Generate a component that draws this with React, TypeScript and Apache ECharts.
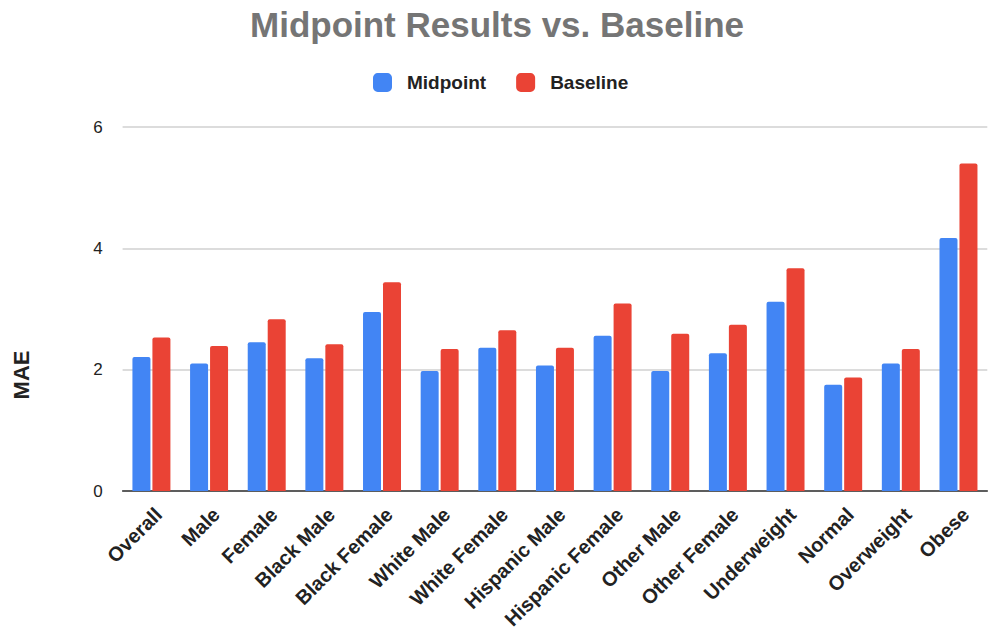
import React, { useEffect, useRef } from "react";
import * as echarts from "echarts";

const categories = [
  "Overall", "Male", "Female", "Black Male", "Black Female", "White Male",
  "White Female", "Hispanic Male", "Hispanic Female", "Other Male",
  "Other Female", "Underweight", "Normal", "Overweight", "Obese",
];
const midpoint = [2.21, 2.1, 2.45, 2.19, 2.95, 1.98, 2.36, 2.07, 2.56, 1.98, 2.27, 3.12, 1.75, 2.1, 4.17];
const baseline = [2.53, 2.39, 2.83, 2.42, 3.44, 2.34, 2.65, 2.36, 3.09, 2.59, 2.74, 3.67, 1.87, 2.34, 5.4];
const yTicks = [0, 2, 4, 6];

const FONT = "'Liberation Sans', Arial, sans-serif";

export default function App() {
  const ref = useRef<HTMLDivElement>(null);
  useEffect(() => {
    document.body.style.margin = "0";
    const chart = echarts.init(ref.current!, undefined, { renderer: "svg" });
    chart.setOption({
      animation: false,
      textStyle: { fontFamily: FONT },
      title: {
        text: "Midpoint Results vs. Baseline",
        left: "center",
        top: 2,
        textStyle: { fontSize: 35, fontWeight: "bold", color: "#757575", fontFamily: FONT },
      },
      legend: {
        top: 68,
        left: 368,
        itemWidth: 19,
        itemHeight: 19,
        itemGap: 30,
        icon: "roundRect",
        textStyle: { fontSize: 19, fontWeight: "bold", color: "#222", fontFamily: FONT, padding: [0, 0, 0, 10] },
        data: ["Midpoint", "Baseline"],
      },
      grid: { left: 122.6, right: 6.7, top: 127, bottom: 143, containLabel: false },
      xAxis: {
        type: "category",
        data: categories,
        axisTick: { show: false },
        axisLine: { lineStyle: { color: "#333", width: 1.5 } },
        axisLabel: {
          rotate: 45,
          interval: 0,
          margin: 13,
          align: "right",
          verticalAlign: "top",
          fontSize: 20,
          fontWeight: "bold",
          color: "#222",
          fontFamily: FONT,
        },
      },
      yAxis: {
        type: "value",
        min: yTicks[0],
        max: yTicks[yTicks.length - 1],
        interval: 2,
        axisLine: { show: false },
        axisTick: { show: false },
        splitLine: { lineStyle: { color: "#d0d0d0", width: 1.5 } },
        axisLabel: { fontSize: 17, color: "#222", margin: 20, fontFamily: FONT },
      },
      graphic: [
        {
          type: "text",
          x: 21,
          y: 375,
          rotation: Math.PI / 2,
          style: {
            text: "MAE",
            font: `bold 22px ${FONT}`,
            fill: "#222",
            align: "center",
            verticalAlign: "middle",
          },
        },
      ],
      series: [
        {
          name: "Midpoint",
          type: "bar",
          data: midpoint,
          barWidth: 18,
          barGap: "11%",
          itemStyle: { color: "#4285F4", borderRadius: [2, 2, 0, 0] },
        },
        {
          name: "Baseline",
          type: "bar",
          data: baseline,
          barWidth: 18,
          barGap: "11%",
          itemStyle: { color: "#EA4335", borderRadius: [2, 2, 0, 0] },
        },
      ],
    });
    return () => chart.dispose();
  }, []);
  return <div ref={ref} style={{ width: 994, height: 634 }} />;
}
